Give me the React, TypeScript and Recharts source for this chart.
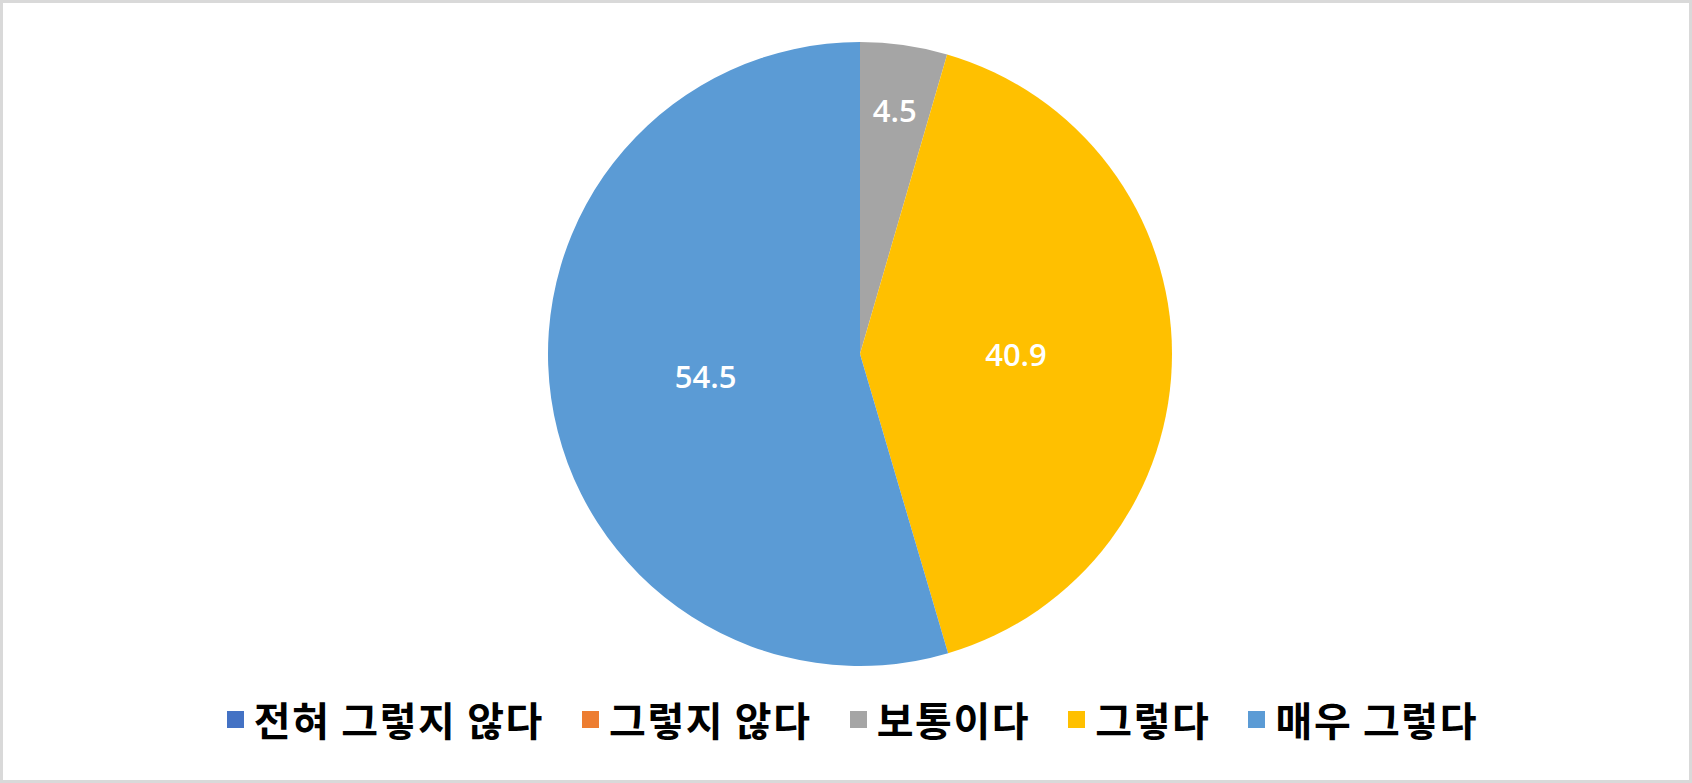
import React from 'react';
import { PieChart, Pie, Cell, Legend } from 'recharts';

// 응답 분포 (%)
const categories = ['전혀 그렇지 않다', '그렇지 않다', '보통이다', '그렇다', '매우 그렇다'];
const values = [0, 0, 4.5, 40.9, 54.5];
const colors = ['#4472C4', '#ED7D31', '#A5A5A5', '#FFC000', '#5B9BD5'];

const data = categories.map((name, i) => ({ name, value: values[i] }));

const RAD = Math.PI / 180;

// Excel 스타일 라벨: 작은 조각은 바깥쪽, 큰 조각은 중간
const renderLabel = (props: any) => {
  const { cx, cy, midAngle, outerRadius, percent, value } = props;
  if (!value) return null;
  const r = outerRadius * (percent < 0.1 ? 0.79 : 0.5);
  const x = cx + r * Math.cos(-midAngle * RAD);
  const y = cy + r * Math.sin(-midAngle * RAD);
  return (
    <text
      x={x}
      y={y}
      fill="#ffffff"
      textAnchor="middle"
      dominantBaseline="central"
      fontFamily="'Open Sans', 'Noto Sans', sans-serif"
      fontWeight={600}
      fontSize={31}
    >
      {value}
    </text>
  );
};

const renderLegend = () => (
  <div
    style={{
      display: 'flex',
      justifyContent: 'center',
      alignItems: 'center',
      gap: 38,
      paddingLeft: 13,
      fontFamily: "'Noto Sans CJK KR', sans-serif",
      fontWeight: 700,
      fontSize: 40,
      letterSpacing: 1.6,
      color: '#000',
    }}
  >
    {categories.map((name, i) => (
      <div key={name} style={{ display: 'flex', alignItems: 'center' }}>
        <span
          style={{
            display: 'inline-block',
            width: 17,
            height: 17,
            background: colors[i],
            marginRight: 10,
          }}
        />
        <span style={{ lineHeight: 1 }}>{name}</span>
      </div>
    ))}
  </div>
);

export default function App() {
  return (
    <div
      style={{
        position: 'absolute',
        left: 0,
        top: 0,
        width: 1692,
        height: 783,
        background: '#fff',
      }}
    >
      <PieChart width={1692} height={783} margin={{ top: 0, right: 0, bottom: 0, left: 0 }}>
        <Pie
          data={data}
          dataKey="value"
          nameKey="name"
          cx={860}
          cy={354}
          outerRadius={312}
          startAngle={90}
          endAngle={-270}
          stroke="none"
          label={renderLabel}
          labelLine={false}
          isAnimationActive={false}
        >
          {data.map((d, i) => (
            <Cell key={d.name} fill={colors[i]} />
          ))}
        </Pie>
        <Legend
          content={renderLegend}
          wrapperStyle={{ position: 'absolute', left: 0, top: 699, width: 1692 }}
        />
      </PieChart>
      <div
        style={{
          position: 'absolute',
          inset: 0,
          border: '3px solid #d9d9d9',
          pointerEvents: 'none',
        }}
      />
    </div>
  );
}
